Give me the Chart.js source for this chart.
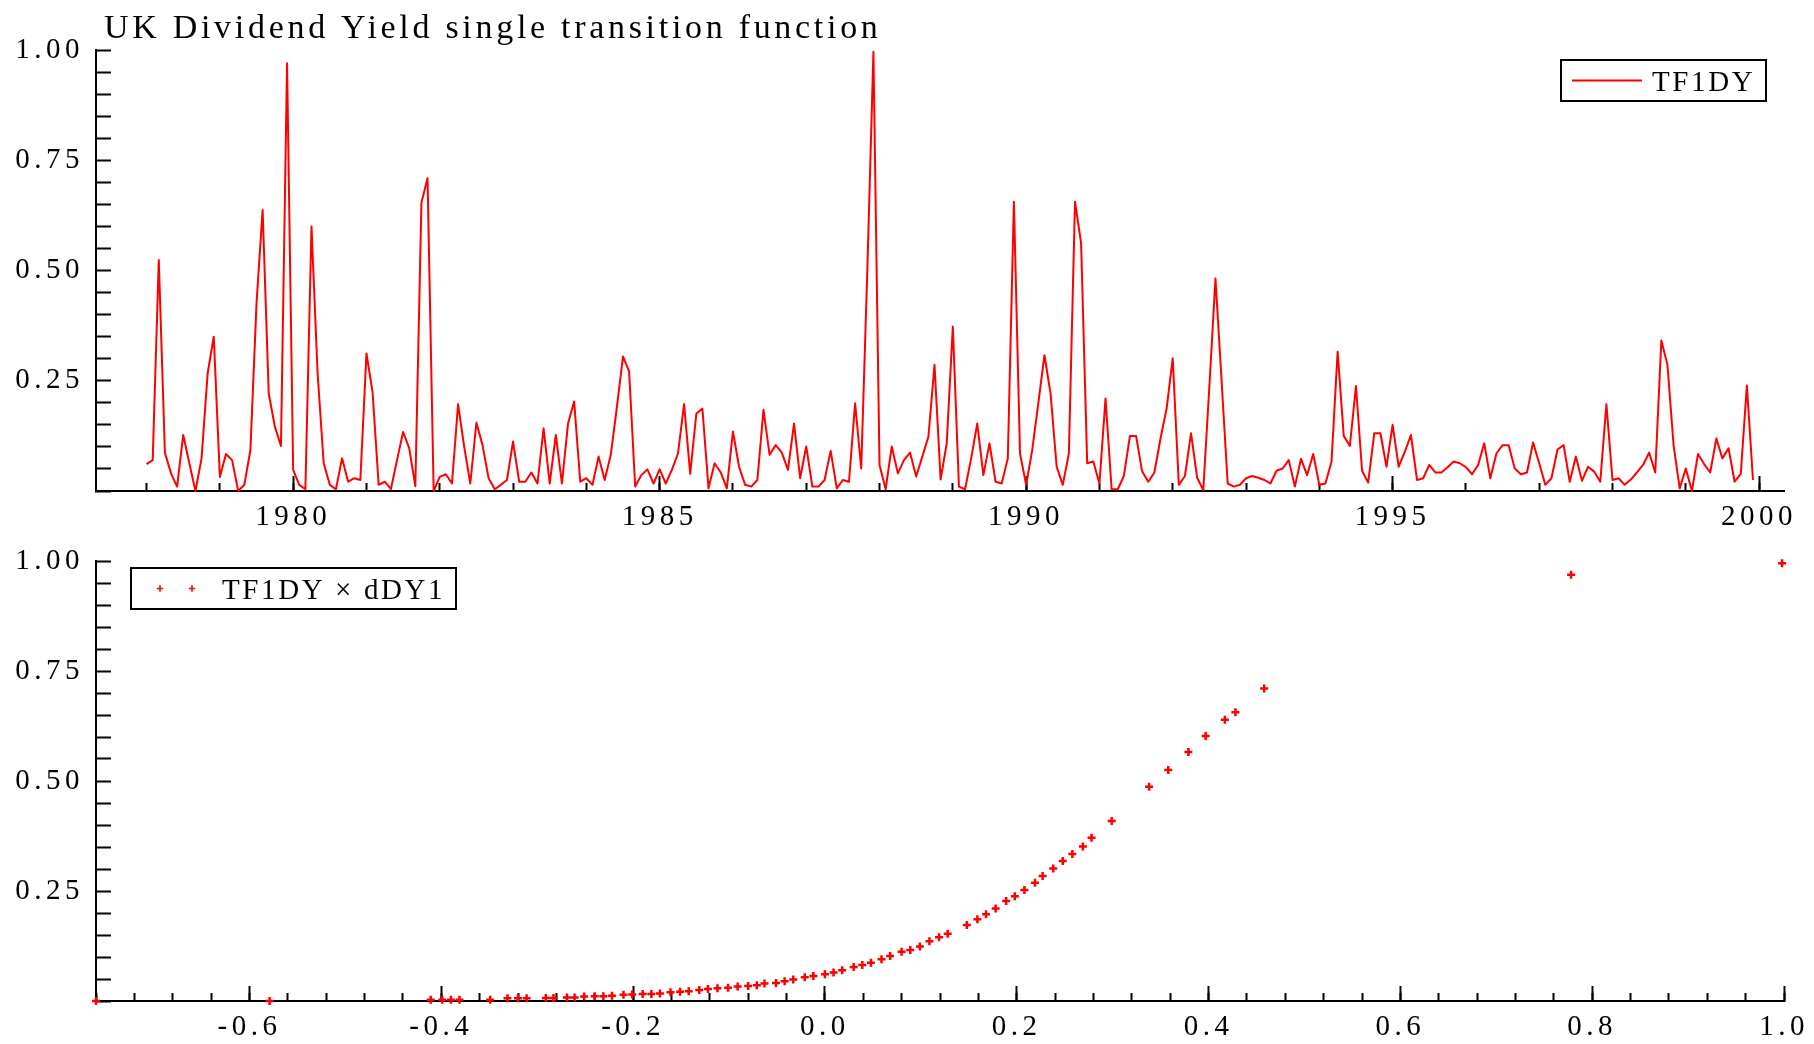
<!DOCTYPE html>
<html>
<head>
<meta charset="utf-8">
<title>UK Dividend Yield single transition function</title>
<script src="https://cdn.jsdelivr.net/npm/chart.js@4.4.1/dist/chart.umd.min.js"></script>
<style>
  html, body { margin: 0; padding: 0; background: #fff; overflow: hidden; }
  #wrap { position: relative; width: 1814px; height: 1044px; }
  .pane { position: absolute; left: 0; width: 1814px; }
  /* top pane runs a little into the lower one so its year labels are not cut */
  #top { top: 0; height: 536px; }
  #bottom { top: 520px; height: 524px; }
</style>
</head>
<body>
<div id="wrap">
  <div class="pane" id="top"><canvas id="tfChart"></canvas></div>
  <div class="pane" id="bottom"><canvas id="scatterChart"></canvas></div>
</div>
<script>
// Monthly transition function values, Jan 1978 .. Dec 1999 (one row per year)
const startYear = 1978;
const tf1dy = [
  0.061, 0.070, 0.524, 0.087, 0.040, 0.010, 0.127, 0.063, 0.000, 0.074, 0.267, 0.350,
  0.032, 0.084, 0.070, 0.000, 0.014, 0.093, 0.426, 0.637, 0.221, 0.146, 0.102, 0.970,
  0.048, 0.014, 0.004, 0.600, 0.267, 0.063, 0.014, 0.004, 0.074, 0.021, 0.029, 0.025,
  0.312, 0.224, 0.014, 0.021, 0.004, 0.070, 0.134, 0.097, 0.011, 0.654, 0.709, 0.000,
  0.032, 0.038, 0.017, 0.197, 0.100, 0.017, 0.155, 0.104, 0.029, 0.004, 0.014, 0.025,
  0.112, 0.021, 0.021, 0.042, 0.017, 0.142, 0.017, 0.127, 0.017, 0.153, 0.203, 0.021,
  0.029, 0.014, 0.078, 0.025, 0.082, 0.190, 0.305, 0.271, 0.010, 0.036, 0.049, 0.017,
  0.049, 0.017, 0.048, 0.085, 0.197, 0.039, 0.175, 0.187, 0.006, 0.063, 0.042, 0.006,
  0.135, 0.055, 0.014, 0.010, 0.025, 0.184, 0.082, 0.104, 0.087, 0.048, 0.153, 0.029,
  0.101, 0.010, 0.010, 0.025, 0.091, 0.006, 0.025, 0.021, 0.199, 0.051, 0.500, 0.996,
  0.059, 0.004, 0.101, 0.040, 0.070, 0.087, 0.033, 0.078, 0.123, 0.286, 0.026, 0.108,
  0.373, 0.010, 0.004, 0.074, 0.153, 0.036, 0.108, 0.021, 0.017, 0.074, 0.656, 0.085,
  0.014, 0.093, 0.200, 0.308, 0.221, 0.055, 0.014, 0.085, 0.656, 0.562, 0.063, 0.067,
  0.017, 0.210, 0.004, 0.004, 0.034, 0.125, 0.125, 0.044, 0.021, 0.042, 0.119, 0.187,
  0.301, 0.014, 0.034, 0.131, 0.030, 0.002, 0.237, 0.482, 0.250, 0.017, 0.010, 0.014,
  0.029, 0.034, 0.030, 0.025, 0.017, 0.046, 0.051, 0.070, 0.010, 0.073, 0.036, 0.084,
  0.014, 0.017, 0.067, 0.316, 0.125, 0.102, 0.238, 0.046, 0.019, 0.131, 0.131, 0.055,
  0.150, 0.055, 0.089, 0.127, 0.025, 0.029, 0.059, 0.042, 0.042, 0.054, 0.067, 0.063,
  0.054, 0.038, 0.059, 0.108, 0.029, 0.085, 0.104, 0.104, 0.051, 0.038, 0.042, 0.110,
  0.063, 0.014, 0.029, 0.094, 0.104, 0.021, 0.078, 0.023, 0.055, 0.044, 0.021, 0.197,
  0.025, 0.029, 0.014, 0.026, 0.042, 0.059, 0.087, 0.042, 0.341, 0.286, 0.104, 0.006,
  0.051, 0.000, 0.084, 0.061, 0.042, 0.119, 0.074, 0.097, 0.021, 0.039, 0.239, 0.025
];

// Scatter: transition function against dDY1 (visible points)
const dDY1 = [
  -0.760, -0.579, -0.411, -0.399, -0.390, -0.381, -0.349, -0.331, -0.320, -0.311,
  -0.291, -0.283, -0.269, -0.261, -0.251, -0.240, -0.231, -0.222, -0.210, -0.201,
  -0.190, -0.181, -0.172, -0.161, -0.151, -0.142, -0.131, -0.122, -0.112, -0.101,
  -0.091, -0.080, -0.071, -0.063, -0.051, -0.042, -0.033, -0.021, -0.012, 0.000,
  0.009, 0.018, 0.030, 0.039, 0.048, 0.059, 0.068, 0.080, 0.089, 0.099,
  0.109, 0.119, 0.128, 0.148, 0.159, 0.168, 0.178, 0.189, 0.198, 0.208,
  0.219, 0.227, 0.238, 0.248, 0.258, 0.269, 0.278, 0.299, 0.338, 0.358,
  0.379, 0.397, 0.417, 0.428, 0.458, 0.778, 0.998
];
const tfAtDDY1 = [
  0.000, 0.000, 0.003, 0.003, 0.003, 0.003, 0.003, 0.006, 0.006, 0.006,
  0.007, 0.007, 0.008, 0.008, 0.010, 0.011, 0.011, 0.012, 0.014, 0.015,
  0.016, 0.016, 0.017, 0.020, 0.021, 0.022, 0.025, 0.027, 0.029, 0.030,
  0.033, 0.034, 0.036, 0.040, 0.041, 0.045, 0.049, 0.054, 0.057, 0.061,
  0.065, 0.070, 0.077, 0.082, 0.087, 0.095, 0.102, 0.112, 0.116, 0.124,
  0.136, 0.145, 0.153, 0.173, 0.186, 0.197, 0.210, 0.227, 0.238, 0.252,
  0.269, 0.284, 0.301, 0.318, 0.334, 0.351, 0.371, 0.409, 0.487, 0.525,
  0.566, 0.602, 0.639, 0.656, 0.710, 0.969, 0.995
];

const FONT = "'Liberation Serif', 'Times New Roman', Times, serif";
const RED = '#ff0000';

Chart.defaults.font.family = FONT;
Chart.defaults.font.size = 29;
Chart.defaults.color = '#000';
Chart.defaults.animation = false;

// fixed axis sizes so both panels line up; label overhang must not shrink the plot
function fixY(w) {
  return scale => { scale.width = w; scale.paddingTop = 0; scale.paddingBottom = 0; };
}
function fixX(h) {
  return scale => { scale.height = h; scale.paddingLeft = 0; scale.paddingRight = 0; };
}

// only 0.25, 0.50, 0.75, 1.00 get a label
function quarterLabel(value) {
  const q = value * 4;
  if (value > 0.001 && Math.abs(q - Math.round(q)) < 1e-6) return value.toFixed(2);
  return '';
}

// wide spacing of the tick labels
const axisText = {
  id: 'axisText',
  beforeDraw(chart) { chart.ctx.letterSpacing = '4.5px'; }
};

const titleText = {
  id: 'titleText',
  afterDraw(chart, args, opts) {
    const ctx = chart.ctx;
    ctx.save();
    ctx.font = opts.size + 'px ' + FONT;
    ctx.letterSpacing = opts.spacing + 'px';
    ctx.fillStyle = '#000';
    ctx.textBaseline = 'alphabetic';
    ctx.fillText(opts.text, chart.chartArea.left + opts.dx, chart.chartArea.top + opts.dy);
    ctx.restore();
  }
};

// legend with a frame, drawn inside the plot
const boxLegend = {
  id: 'boxLegend',
  afterDraw(chart, args, opts) {
    const ctx = chart.ctx;
    const area = chart.chartArea;
    const ds = chart.data.datasets[0];
    const left = opts.right ? area.right - opts.dx - opts.width : area.left + opts.dx;
    const top = area.top + opts.dy;
    const mid = top + opts.height / 2;
    ctx.save();
    ctx.strokeStyle = '#000';
    ctx.lineWidth = 2;
    ctx.strokeRect(left, top, opts.width, opts.height);
    ctx.strokeStyle = ds.borderColor;
    if (opts.marker === 'line') {
      ctx.lineWidth = 2;
      ctx.beginPath();
      ctx.moveTo(left + 11, mid);
      ctx.lineTo(left + 81, mid);
      ctx.stroke();
    } else {
      ctx.lineWidth = 1.6;
      [29, 61].forEach(dx => {
        ctx.beginPath();
        ctx.moveTo(left + dx - 3.2, mid);
        ctx.lineTo(left + dx + 3.2, mid);
        ctx.moveTo(left + dx, mid - 3.2);
        ctx.lineTo(left + dx, mid + 3.2);
        ctx.stroke();
      });
    }
    ctx.font = opts.size + 'px ' + FONT;
    ctx.letterSpacing = '2.6px';
    ctx.fillStyle = '#000';
    ctx.textBaseline = 'alphabetic';
    ctx.fillText(ds.label, left + 91, top + 31);
    ctx.restore();
  }
};

function yAxis() {
  return {
    min: 0,
    max: 1,
    afterFit: fixY(96),
    border: { color: '#000', width: 2 },
    grid: { drawOnChartArea: false, tickLength: -15, tickWidth: 2, tickColor: '#000' },
    ticks: { stepSize: 0.05, autoSkip: false, padding: 27, callback: quarterLabel }
  };
}

// minor ticks, no labels
function minorAxis(min, max, step) {
  return {
    type: 'linear', position: 'bottom', weight: 0, min: min, max: max,
    afterFit: fixX(0),
    border: { color: '#000', width: 2 },
    grid: { drawOnChartArea: false, tickLength: -8, tickWidth: 2, tickColor: '#000' },
    ticks: { stepSize: step, includeBounds: false, autoSkip: false, display: false }
  };
}

// major ticks with labels
function majorAxis(min, max, step, height, fmt) {
  return {
    type: 'linear', position: 'bottom', weight: 1, min: min, max: max,
    afterFit: fixX(height),
    border: { display: false },
    grid: { drawOnChartArea: false, tickLength: -15, tickWidth: 2, tickColor: '#000' },
    ticks: { stepSize: step, includeBounds: false, autoSkip: false, maxRotation: 0, padding: 24, callback: fmt }
  };
}

const months = tf1dy.map((_, i) => startYear + i / 12);

new Chart(document.getElementById('tfChart'), {
  type: 'line',
  data: {
    datasets: [{
      label: 'TF1DY',
      data: tf1dy.map((v, i) => ({ x: months[i], y: v })),
      borderColor: RED,
      borderWidth: 2,
      borderJoinStyle: 'round',
      pointRadius: 0,
      tension: 0,
      clip: false,
      xAxisID: 'x',
      yAxisID: 'y'
    }]
  },
  options: {
    responsive: true,
    maintainAspectRatio: false,
    devicePixelRatio: 1,
    events: [],
    layout: { padding: { left: 0, right: 30, top: 50, bottom: 0 } },
    plugins: {
      legend: { display: false },
      tooltip: { enabled: false },
      titleText: { text: 'UK Dividend Yield single transition function', size: 34, spacing: 3.7, dx: 8, dy: -12 },
      boxLegend: { right: true, dx: 18, dy: 10, width: 205, height: 41, marker: 'line', size: 29 }
    },
    scales: {
      x: minorAxis(1977.31, 2000.34, 1),
      x2: majorAxis(1977.31, 2000.34, 5, 45, v => String(Math.round(v))),
      y: yAxis()
    }
  },
  plugins: [axisText, titleText, boxLegend]
});

new Chart(document.getElementById('scatterChart'), {
  type: 'scatter',
  data: {
    datasets: [{
      label: 'TF1DY \u00d7 dDY1',
      data: dDY1.map((x, i) => ({ x: x, y: tfAtDDY1[i] })),
      pointStyle: 'cross',
      pointRadius: 4,
      borderWidth: 2.5,
      borderColor: RED,
      backgroundColor: RED,
      clip: false,
      xAxisID: 'x',
      yAxisID: 'y'
    }]
  },
  options: {
    responsive: true,
    maintainAspectRatio: false,
    devicePixelRatio: 1,
    events: [],
    layout: { padding: { left: 0, right: 30, top: 41, bottom: 0 } },
    plugins: {
      legend: { display: false },
      tooltip: { enabled: false },
      boxLegend: { right: false, dx: 35, dy: 7, width: 325, height: 41, marker: 'cross', size: 29 }
    },
    scales: {
      x: minorAxis(-0.76, 1.0, 0.04),
      x2: majorAxis(-0.76, 1.0, 0.2, 43, v => v.toFixed(1)),
      y: yAxis()
    }
  },
  plugins: [axisText, boxLegend]
});
</script>
</body>
</html>
